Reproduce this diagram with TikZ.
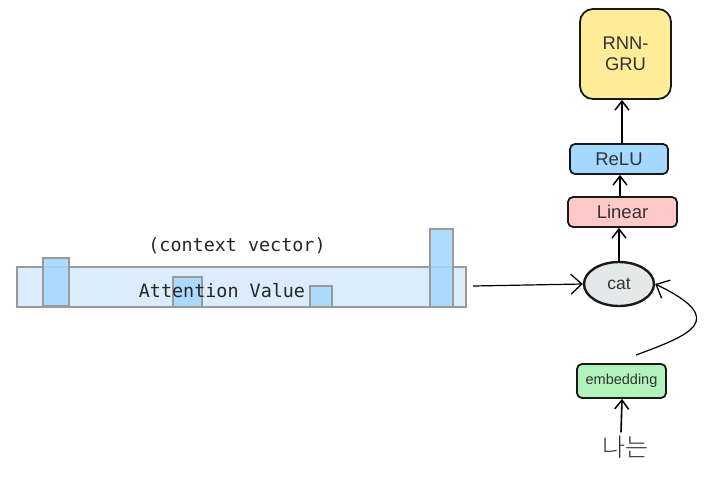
\documentclass[tikz,border=0pt]{standalone}
\usepackage{fontspec}
\setmainfont{Liberation Sans}
\setmonofont{DejaVu Sans Mono}
\newfontfamily\kofont{Noto Sans CJK KR Light}
\usetikzlibrary{arrows.meta,shapes.geometric}
\definecolor{vecfill}{HTML}{DBEDFD}
\definecolor{barfill}{HTML}{A5D8FF}
\definecolor{linfill}{HTML}{FFC9C9}
\definecolor{grufill}{HTML}{FFEC99}
\definecolor{embfill}{HTML}{B2F2BB}
\definecolor{catfill}{HTML}{E3E8E8}
\definecolor{edgegray}{HTML}{9A9A9A}
\tikzset{
  blk/.style={draw=black!90, line width=1.8pt, rounded corners=5pt, inner sep=0pt, font=\fontsize{18.5}{21}\selectfont, text=black!80},
  barbox/.style={draw=edgegray, line width=1.2pt, fill=barfill, fill opacity=0.9},
  conn/.style={line width=1.6pt, -{Straight Barb[length=9pt,width=14pt,line width=1.5pt]}},
  thinconn/.style={line width=1.2pt, -{Straight Barb[length=11pt,width=20pt,line width=1.3pt]}},
  monotext/.style={font=\ttfamily\fontsize{18.4}{20}\selectfont, text=black!85},
}
\begin{document}
\begin{tikzpicture}[x=1pt,y=-1pt]
\useasboundingbox (0,0) rectangle (726,483);
% context vector band
\node[draw=edgegray, line width=1.2pt, fill=vecfill, minimum width=449pt, minimum height=40pt, inner sep=0pt] (band) at (241.5,287) {};
\node[barbox, minimum width=26pt, minimum height=48pt, inner sep=0pt] (b1) at (56,282) {};
\node[barbox, minimum width=29pt, minimum height=30pt, inner sep=0pt] (b2) at (187.5,292) {};
\node[barbox, minimum width=22pt, minimum height=21pt, inner sep=0pt] (b3) at (321,296.5) {};
\node[barbox, minimum width=23pt, minimum height=78pt, inner sep=0pt] (b4) at (441.5,268) {};
\node[monotext] (ctx) at (237,246) {(context vector)};
\node[monotext] (attn) at (222,291) {Attention Value};
% right column
\node[blk, fill=grufill, rounded corners=13pt, minimum width=91pt, minimum height=90pt, align=center, font=\fontsize{18.4}{20.5}\selectfont] (gru) at (625.5,54) {RNN-\\GRU};
\node[blk, fill=barfill, minimum width=98pt, minimum height=30pt] (relu) at (619,159) {ReLU};
\node[blk, fill=linfill, minimum width=109pt, minimum height=30pt] (lin) at (622.5,212) {Linear};
\node[draw=black!90, line width=2.4pt, ellipse, fill=catfill, minimum width=70pt, minimum height=44pt, inner sep=0pt, font=\fontsize{17.5}{20}\selectfont, text=black!80] (cat) at (619,284) {cat};
\node[blk, fill=embfill, minimum width=89pt, minimum height=34pt, font=\fontsize{14.5}{16}\selectfont] (emb) at (621.5,381) {embedding};
\node[font=\kofont\fontsize{25}{27}\selectfont, text=black!80] (na) at (625,447) {나는};
% connectors
\coordinate (bandout) at (473,286);
\draw[thinconn] (bandout) -- (cat.west);
\draw[conn] (cat.north) -- (cat.north |- lin.south);
\draw[conn] (lin.north -| 620,0) -- (relu.south -| 620,0);
\draw[conn] (relu.north -| 622,0) -- (gru.south -| 622,0);
\draw[conn] (na.north -| 621,0) -- (emb.south -| 622,0);
\coordinate (embout) at (636,355);
\draw[thinconn] (embout) .. controls (690,335) and (730,320) .. (cat.east);
\end{tikzpicture}
\end{document}
